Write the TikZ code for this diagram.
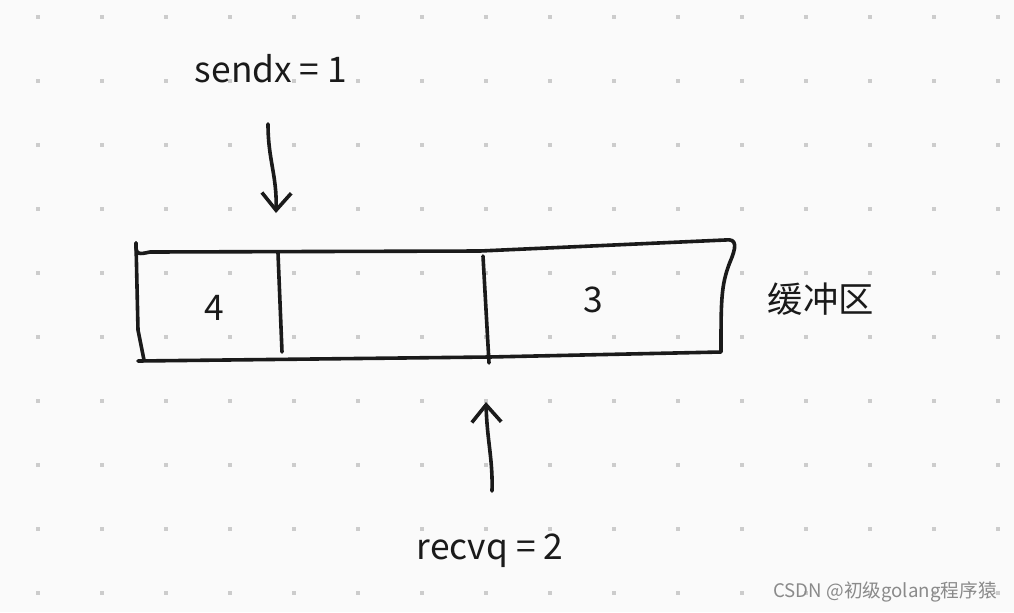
\documentclass[tikz,border=0pt]{standalone}
\usepackage{fontspec}
\setmainfont{Noto Sans CJK SC}
\usetikzlibrary{arrows.meta}
\definecolor{paper}{HTML}{FAFAFA}
\definecolor{dotgray}{HTML}{CCCCCC}
\definecolor{inkc}{HTML}{1A1A1A}
\definecolor{markgray}{HTML}{8A8A8A}

\begin{document}
\begin{tikzpicture}[x=0.75pt,y=-0.75pt,line width=2.7pt,line cap=round,line join=round,
    txt/.style={font=\fontsize{26.5}{31}\selectfont,text=inkc,inner sep=0pt},
    pen/.style={draw=inkc},
    penarrow/.style={pen,-{Straight Barb[length=13pt,width=22pt,line width=2.7pt]}}]
  \useasboundingbox[fill=paper] (0,0) rectangle (1014,612);
  % dot grid
  \foreach \i in {0,...,15}
    \foreach \j in {0,...,9}
      \fill[dotgray] (36+64*\i,15+64*\j) rectangle ++(4,4);
  % buffer corners
  \coordinate (tl) at (136,243);
  \coordinate (tr) at (725,240);
  \coordinate (br) at (721,352);
  \coordinate (bl) at (138,361);
  \coordinate (d1t) at (278,253);
  \coordinate (d1b) at (282,352);
  \coordinate (d2t) at (483,256);
  \coordinate (d2b) at (489,363);
  % buffer outline
  \draw[pen] (tl) .. controls (135,256) and (140,254) .. (150,252) -- (480,251) -- (tr)
    .. controls (738,238) and (736,248) .. (730,262) .. controls (721,285) and (721,300) .. (br)
    -- (489,357) -- (bl);
  \draw[pen] (tl) -- (138,330) -- (144,360);
  \draw[pen] (d1t) -- (d1b);
  \draw[pen] (d2t) -- (d2b);
  % cell texts
  \node[txt] (cellfour) at (214,308) {4};
  \node[txt] (cellthree) at (593,300) {3};
  \node[txt,anchor=west] (buf) at (766,299) {缓冲区};
  % pointers
  \node[txt] (sendx) at (271,69) {sendx = 1};
  \node[txt] (recvq) at (490,551) {recvq = 2};
  \coordinate (sendfrom) at (268,124);
  \coordinate (sendto) at (276,213);
  \coordinate (recvfrom) at (492,491);
  \coordinate (recvto) at (486,402);
  \draw[penarrow] (sendfrom) .. controls (268,160) and (277,175) .. (sendto);
  \draw[penarrow] (recvfrom) .. controls (493,460) and (487,440) .. (recvto);
  % watermark
  \node[font=\fontsize{14}{16}\selectfont,text=markgray,inner sep=0pt] (mark) at (885,592) {CSDN @初级golang程序猿};
\end{tikzpicture}
\end{document}
